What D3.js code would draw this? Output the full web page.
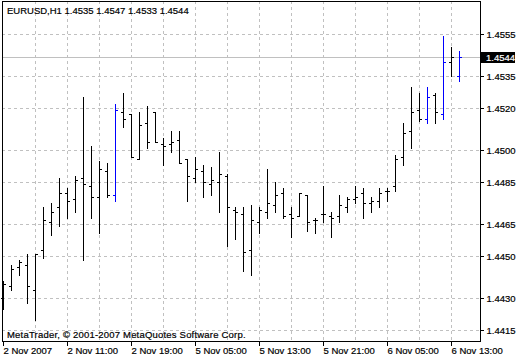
<!DOCTYPE html>
<html>
<head>
<meta charset="utf-8">
<script src="https://cdn.jsdelivr.net/npm/d3@7"></script>
<style>
  body { margin: 0; background: #fff; }
  text { font-family: "Liberation Sans", Arial, sans-serif; font-size: 9.5px; fill: #000;
         stroke: #000; stroke-width: 0.2px; }
</style>
</head>
<body>
<div id="chart"></div>
<script>
// EURUSD H1 bars, one value per hour
var opens  = [1.4430, 1.4436, 1.4445, 1.4446, 1.4434, 1.4453, 1.4466, 1.4473, 1.4480, 1.4477,
              1.4487, 1.4483, 1.4478, 1.4490, 1.4479, 1.4518, 1.4517, 1.4496, 1.4513, 1.4518,
              1.4503, 1.4503, 1.4505, 1.4496, 1.4487, 1.4490, 1.4484, 1.4485, 1.4488, 1.4472,
              1.4470, 1.4453, 1.4466, 1.4471, 1.4474, 1.4480, 1.4470, 1.4469, 1.4479, 1.4467,
              1.4470, 1.4469, 1.4469, 1.4473, 1.4477, 1.4480, 1.4475, 1.4476, 1.4481, 1.4483,
              1.4497, 1.4509, 1.4519, 1.4515, 1.4526, 1.4517, 1.4542, 1.4535];
var highs  = [1.4438, 1.4446, 1.4448, 1.4451, 1.4451, 1.4473, 1.4475, 1.4487, 1.4482, 1.4488,
              1.4525, 1.4502, 1.4495, 1.4494, 1.4522, 1.4527, 1.4517, 1.4518, 1.4521, 1.4518,
              1.4506, 1.4509, 1.4509, 1.4496, 1.4497, 1.4493, 1.4492, 1.4499, 1.4489, 1.4473,
              1.4473, 1.4474, 1.4473, 1.4491, 1.4485, 1.4482, 1.4473, 1.4480, 1.4479, 1.4468,
              1.4483, 1.4471, 1.4479, 1.4478, 1.4483, 1.4482, 1.4478, 1.4482, 1.4482, 1.4498,
              1.4513, 1.4530, 1.4527, 1.4530, 1.4527, 1.4554, 1.4549, 1.4547];
var lows   = [1.4425, 1.4434, 1.4441, 1.4428, 1.4420, 1.4449, 1.4460, 1.4464, 1.4468, 1.4471,
              1.4448, 1.4468, 1.4461, 1.4478, 1.4476, 1.4511, 1.4497, 1.4496, 1.4501, 1.4504,
              1.4493, 1.4499, 1.4494, 1.4476, 1.4485, 1.4478, 1.4479, 1.4471, 1.4455, 1.4458,
              1.4443, 1.4441, 1.4461, 1.4468, 1.4471, 1.4468, 1.4459, 1.4469, 1.4462, 1.4461,
              1.4466, 1.4459, 1.4466, 1.4471, 1.4475, 1.4468, 1.4471, 1.4473, 1.4476, 1.4481,
              1.4493, 1.4501, 1.4514, 1.4513, 1.4513, 1.4515, 1.4535, 1.4533];
var closes = [1.4437, 1.4444, 1.4447, 1.4436, 1.4451, 1.4467, 1.4471, 1.4480, 1.4476, 1.4486,
              1.4484, 1.4478, 1.4491, 1.4479, 1.4519, 1.4515, 1.4497, 1.4512, 1.4504, 1.4504,
              1.4502, 1.4504, 1.4494, 1.4488, 1.4491, 1.4485, 1.4486, 1.4489, 1.4473, 1.4471,
              1.4452, 1.4467, 1.4472, 1.4475, 1.4479, 1.4469, 1.4468, 1.4480, 1.4466, 1.4467,
              1.4470, 1.4468, 1.4474, 1.4477, 1.4478, 1.4475, 1.4476, 1.4480, 1.4481, 1.4496,
              1.4508, 1.4518, 1.4515, 1.4525, 1.4518, 1.4542, 1.4544, 1.4544];
// bars drawn in blue on the chart
var highlighted = [14, 53, 55, 57];

var priceTicks = [1.4555, 1.4535, 1.4520, 1.4500, 1.4485, 1.4465, 1.4450, 1.4430, 1.4415];
var timeTicks  = [0, 8, 16, 24, 32, 40, 48, 56];
var timeLabels = ["2 Nov 2007", "2 Nov 11:00", "2 Nov 19:00", "5 Nov 05:00",
                  "5 Nov 13:00", "5 Nov 21:00", "6 Nov 05:00", "6 Nov 13:00"];
var symbol = "EURUSD,H1";
var copyright = "MetaTrader, \u00A9 2001-2007 MetaQuotes Software Corp.";

var width = 520, height = 360;
var plot = {left: 2, top: 1, right: 480, bottom: 341};

var bars = opens.map(function(o, i) {
  return {i: i, open: o, high: highs[i], low: lows[i], close: closes[i]};
});
var last = bars[bars.length - 1];
var fmt = d3.format(".4f");

var svg = d3.select("#chart")
  .append("svg")
    .attr("width", width)
    .attr("height", height)
    .style("display", "block");

// x: one bar every 8 px, y: price
var x = d3.scaleLinear()
  .domain([0, 1])
  .range([3, 11]);
var y = d3.scaleLinear()
  .domain([1.44096, 1.45704])
  .range([342, 2]);

function row(p) { return Math.floor(y(p)); }
function barColor(d) { return highlighted.indexOf(d.i) >= 0 ? "#0000ff" : "#000"; }

var crisp = svg.append("g").attr("shape-rendering", "crispEdges");

// grid
crisp.selectAll(".hgrid")
  .data(priceTicks)
  .enter()
  .append("line")
    .attr("x1", plot.left).attr("x2", plot.right)
    .attr("y1", function(d) { return row(d) + 0.5; })
    .attr("y2", function(d) { return row(d) + 0.5; })
    .attr("stroke", "#c0c0c0")
    .attr("stroke-dasharray", "3,3");

crisp.selectAll(".vgrid")
  .data(d3.range(4, bars.length, 4))
  .enter()
  .append("line")
    .attr("x1", function(d) { return x(d) + 0.5; })
    .attr("x2", function(d) { return x(d) + 0.5; })
    .attr("y1", plot.top).attr("y2", plot.bottom)
    .attr("stroke", "#c0c0c0")
    .attr("stroke-dasharray", "3,3");

// bid line
crisp.append("line")
  .attr("x1", plot.left).attr("x2", plot.right)
  .attr("y1", row(last.close) + 0.5).attr("y2", row(last.close) + 0.5)
  .attr("stroke", "#c0c0c0");

// OHLC bars
var barG = crisp.selectAll(".bar")
  .data(bars)
  .enter()
  .append("g");

barG.append("line")
  .attr("x1", function(d) { return x(d.i) + 0.5; })
  .attr("x2", function(d) { return x(d.i) + 0.5; })
  .attr("y1", function(d) { return row(d.high); })
  .attr("y2", function(d) { return row(d.low) + 1; })
  .style("stroke", barColor);
barG.append("line")
  .attr("x1", function(d) { return x(d.i) - 2; })
  .attr("x2", function(d) { return x(d.i); })
  .attr("y1", function(d) { return row(d.open) + 0.5; })
  .attr("y2", function(d) { return row(d.open) + 0.5; })
  .style("stroke", barColor);
barG.append("line")
  .attr("x1", function(d) { return x(d.i) + 1; })
  .attr("x2", function(d) { return x(d.i) + 3; })
  .attr("y1", function(d) { return row(d.close) + 0.5; })
  .attr("y2", function(d) { return row(d.close) + 0.5; })
  .style("stroke", barColor);

// frame
crisp.append("rect")
  .attr("x", plot.left + 0.5).attr("y", plot.top + 0.5)
  .attr("width", plot.right - plot.left).attr("height", plot.bottom - plot.top)
  .attr("fill", "none")
  .attr("stroke", "#000");

// price axis
var yAxis = svg.append("g")
  .attr("transform", "translate(" + (plot.right + 0.5) + ",0)");
yAxis.selectAll(".tick")
  .data(priceTicks)
  .enter()
  .append("g")
    .attr("transform", function(d) { return "translate(0," + (row(d) + 0.5) + ")"; })
    .each(function(d) {
      var g = d3.select(this);
      g.append("line").attr("x1", 0).attr("x2", 3).attr("stroke", "#000")
        .attr("shape-rendering", "crispEdges");
      g.append("text").attr("x", 6).attr("dy", "0.35em").text(fmt(d));
    });

// current price label
var bidG = svg.append("g")
  .attr("transform", "translate(" + (plot.right + 1) + "," + (row(last.close) + 0.5) + ")");
bidG.append("rect")
  .attr("x", 0).attr("y", -5.5)
  .attr("width", 34).attr("height", 11)
  .attr("fill", "#000");
bidG.append("text")
  .attr("x", 5).attr("dy", "0.35em")
  .style("fill", "#fff")
  .style("stroke", "#fff")
  .text(fmt(last.close));

// time axis
var xAxis = svg.append("g");
xAxis.selectAll(".tick")
  .data(timeTicks)
  .enter()
  .append("g")
    .attr("transform", function(d) { return "translate(" + (x(d) + 0.5) + "," + (plot.bottom + 0.5) + ")"; })
    .each(function(d, k) {
      var g = d3.select(this);
      g.append("line").attr("y1", 0).attr("y2", 4).attr("stroke", "#000")
        .attr("shape-rendering", "crispEdges");
      g.append("text").attr("x", 0).attr("y", 12.5).text(timeLabels[k]);
    });

// header and copyright
svg.append("text")
  .attr("x", 7).attr("y", 14)
  .text(symbol + "  " + [last.open, last.high, last.low, last.close].map(fmt).join(" "));
svg.append("text")
  .attr("x", 7).attr("y", 338)
  .style("letter-spacing", "0.2px")
  .text(copyright);
</script>
</body>
</html>
